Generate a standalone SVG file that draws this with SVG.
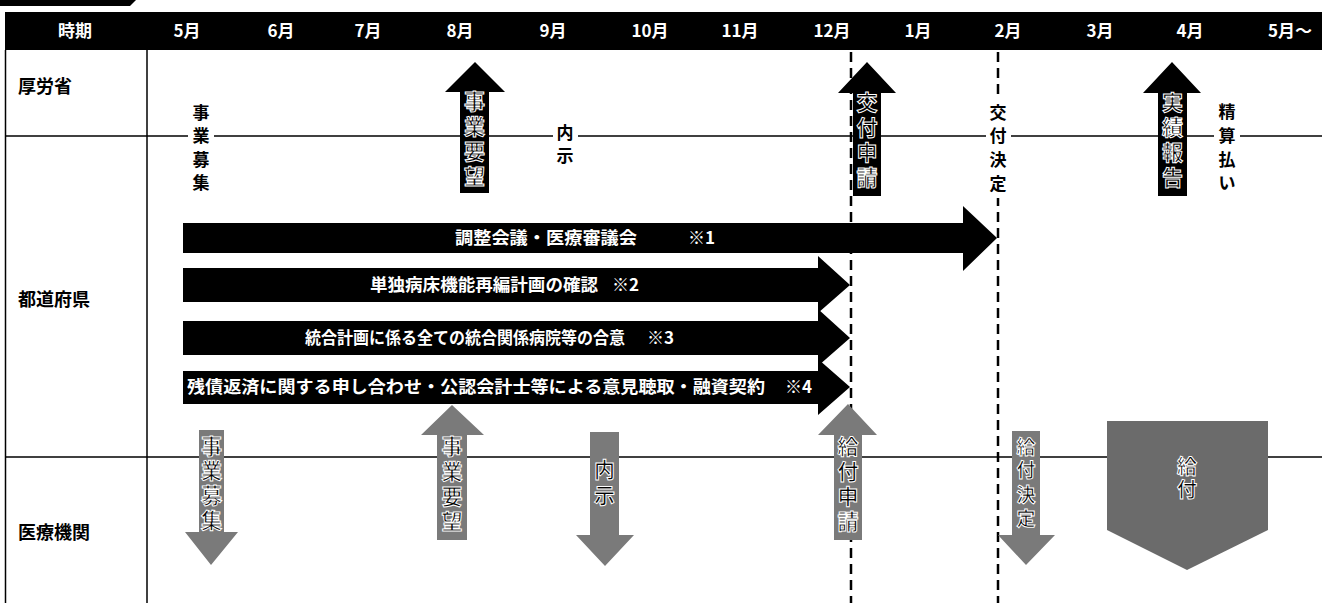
<svg xmlns="http://www.w3.org/2000/svg" width="1322" height="603" viewBox="0 0 1322 603">
<style>
  .hdr{font-family:"Noto Sans CJK JP","Liberation Sans",sans-serif;font-weight:bold;font-size:17px;fill:#fff;text-anchor:middle}
  .row{font-family:"Noto Sans CJK JP","Liberation Sans",sans-serif;font-weight:bold;font-size:18px;fill:#000}
  .vt{font-family:"Noto Sans CJK JP","Liberation Sans",sans-serif;font-weight:bold;font-size:17px;fill:#000;text-anchor:middle}
  .at{font-family:"Noto Sans CJK JP","Liberation Sans",sans-serif;font-weight:bold;font-size:21px;fill:#000;stroke:#fff;stroke-width:1;text-anchor:middle}
  .bt{font-family:"Noto Sans CJK JP","Liberation Sans",sans-serif;font-weight:bold;font-size:17px;fill:#fff}
  .blk{fill:#000}
  .gry{fill:#7a7a7a}
  .ln{stroke:#000;stroke-width:1.5;fill:none}
  .dash{stroke:#000;stroke-width:2.5;stroke-dasharray:10 6;fill:none}
</style>

<g id="table">
  <polygon class="blk" points="0,0 136,0 130,6 0,6"/>
  <rect class="blk" x="5" y="12" width="1317" height="38"/>
  <line class="ln" x1="5.5" y1="50" x2="5.5" y2="603"/>
  <line class="ln" x1="147" y1="50" x2="147" y2="603"/>
  <line class="ln" x1="5" y1="136" x2="1322" y2="136"/>
  <line class="ln" x1="5" y1="457" x2="1322" y2="457"/>
</g>

<g id="header">
  <text class="hdr" x="75" y="37">時期</text>
  <text class="hdr" x="187" y="37">5月</text>
  <text class="hdr" x="281" y="37">6月</text>
  <text class="hdr" x="368" y="37">7月</text>
  <text class="hdr" x="460" y="37">8月</text>
  <text class="hdr" x="553" y="37">9月</text>
  <text class="hdr" x="650" y="37">10月</text>
  <text class="hdr" x="740" y="37">11月</text>
  <text class="hdr" x="832" y="37">12月</text>
  <text class="hdr" x="918" y="37">1月</text>
  <text class="hdr" x="1008" y="37">2月</text>
  <text class="hdr" x="1100" y="37">3月</text>
  <text class="hdr" x="1190" y="37">4月</text>
  <text class="hdr" x="1290" y="37">5月～</text>
</g>

<g id="rowlabels">
  <text class="row" x="18" y="93">厚労省</text>
  <text class="row" x="18" y="306">都道府県</text>
  <text class="row" x="18" y="539">医療機関</text>
</g>

<g id="connectors">
  <line class="dash" x1="851" y1="52" x2="851" y2="603"/>
  <line class="dash" x1="998" y1="52" x2="998" y2="603"/>
</g>

<g id="label-jigyoboshu">
  <rect x="188" y="100" width="26" height="94" fill="#fff"/>
  <text class="vt" x="201" y="119">事</text>
  <text class="vt" x="201" y="142">業</text>
  <text class="vt" x="201" y="166">募</text>
  <text class="vt" x="201" y="189">集</text>
</g>
<g id="label-naiji">
  <rect x="553" y="122" width="25" height="46" fill="#fff"/>
  <text class="vt" x="565" y="139">内</text>
  <text class="vt" x="565" y="162">示</text>
</g>
<g id="label-kofukettei">
  <rect x="986" y="100" width="25" height="98" fill="#fff"/>
  <text class="vt" x="998" y="119">交</text>
  <text class="vt" x="998" y="142">付</text>
  <text class="vt" x="998" y="166">決</text>
  <text class="vt" x="998" y="190">定</text>
</g>
<g id="label-seisan">
  <rect x="1214" y="100" width="26" height="94" fill="#fff"/>
  <text class="vt" x="1227" y="118">精</text>
  <text class="vt" x="1227" y="142">算</text>
  <text class="vt" x="1227" y="166">払</text>
  <text class="vt" x="1227" y="189">い</text>
</g>

<g id="up-jigyoyobo-mhlw">
  <path class="blk" d="M475,62 L505,92 L489,92 L489,193 L460,193 L460,92 L445,92 Z"/>
  <text class="at" x="474.5" y="109">事</text>
  <text class="at" x="474.5" y="134">業</text>
  <text class="at" x="474.5" y="159">要</text>
  <text class="at" x="474.5" y="184">望</text>
</g>
<g id="up-kofushinsei">
  <path class="blk" d="M867,62 L896,93 L881,93 L881,196 L853,196 L853,93 L838,93 Z"/>
  <text class="at" x="867" y="110">交</text>
  <text class="at" x="867" y="135">付</text>
  <text class="at" x="867" y="160">申</text>
  <text class="at" x="867" y="185">請</text>
</g>
<g id="up-jisseki">
  <path class="blk" d="M1172,62 L1201,93 L1187,93 L1187,196 L1158,196 L1158,93 L1143,93 Z"/>
  <text class="at" x="1172.5" y="110">実</text>
  <text class="at" x="1172.5" y="135">績</text>
  <text class="at" x="1172.5" y="160">報</text>
  <text class="at" x="1172.5" y="185">告</text>
</g>

<g id="bar1">
  <path class="blk" d="M183,223 L963,223 L963,206 L997,238 L963,271 L963,253 L183,253 Z"/>
  <text class="bt" x="455" y="244" textLength="182" lengthAdjust="spacingAndGlyphs">調整会議・医療審議会</text>
  <text class="bt" x="688" y="244">※1</text>
</g>
<g id="bar2">
  <path class="blk" d="M183,268 L818,268 L818,256 L850,285 L818,313 L818,302 L183,302 Z"/>
  <text class="bt" x="370" y="291" textLength="228" lengthAdjust="spacingAndGlyphs">単独病床機能再編計画の確認</text>
  <text class="bt" x="612" y="291">※2</text>
</g>
<g id="bar3">
  <path class="blk" d="M183,321 L818,321 L818,309 L850,338 L818,366 L818,355 L183,355 Z"/>
  <text class="bt" x="305" y="344" textLength="320" lengthAdjust="spacingAndGlyphs">統合計画に係る全ての統合関係病院等の合意</text>
  <text class="bt" x="647" y="344">※3</text>
</g>
<g id="bar4">
  <path class="blk" d="M183,371 L818,371 L818,359 L850,387 L818,415 L818,404 L183,404 Z"/>
  <text class="bt" x="187" y="393" textLength="578" lengthAdjust="spacingAndGlyphs">残債返済に関する申し合わせ・公認会計士等による意見聴取・融資契約</text>
  <text class="bt" x="785" y="393">※4</text>
</g>

<g id="down-jigyoboshu">
  <path class="gry" d="M199,430 L224,430 L224,532 L238,532 L211,565 L185,532 L199,532 Z"/>
  <text class="at" x="211.5" y="454">事</text>
  <text class="at" x="211.5" y="478">業</text>
  <text class="at" x="211.5" y="503">募</text>
  <text class="at" x="211.5" y="528">集</text>
</g>
<g id="up-jigyoyobo">
  <path class="gry" d="M452,405 L484,435 L467,435 L467,540 L437,540 L437,435 L421,435 Z"/>
  <text class="at" x="452" y="454">事</text>
  <text class="at" x="452" y="479">業</text>
  <text class="at" x="452" y="504">要</text>
  <text class="at" x="452" y="529">望</text>
</g>
<g id="down-naiji">
  <path class="gry" d="M590,432 L619,432 L619,535 L634,535 L605,566 L576,535 L590,535 Z"/>
  <text class="at" x="604.5" y="477">内</text>
  <text class="at" x="604.5" y="503">示</text>
</g>
<g id="up-kyufushinsei">
  <path class="gry" d="M848,404 L877,435 L862,435 L862,540 L834,540 L834,435 L818,435 Z"/>
  <text class="at" x="848" y="454">給</text>
  <text class="at" x="848" y="479">付</text>
  <text class="at" x="848" y="504">申</text>
  <text class="at" x="848" y="529">請</text>
</g>
<g id="down-kyufukettei">
  <path class="gry" d="M1012,431 L1040,431 L1040,535 L1055,535 L1026,565 L998,535 L1012,535 Z"/>
  <text class="at" x="1026" y="454" style="font-size:19px">給</text>
  <text class="at" x="1026" y="477" style="font-size:19px">付</text>
  <text class="at" x="1026" y="502" style="font-size:19px">決</text>
  <text class="at" x="1026" y="526" style="font-size:19px">定</text>
</g>
<g id="kyufu">
  <path fill="#6b6b6b" d="M1107,421 L1268,421 L1268,530 L1187,570 L1107,530 Z"/>
  <text class="at" x="1187" y="474" style="font-size:20px">給</text>
  <text class="at" x="1187" y="497" style="font-size:20px">付</text>
</g>
</svg>
